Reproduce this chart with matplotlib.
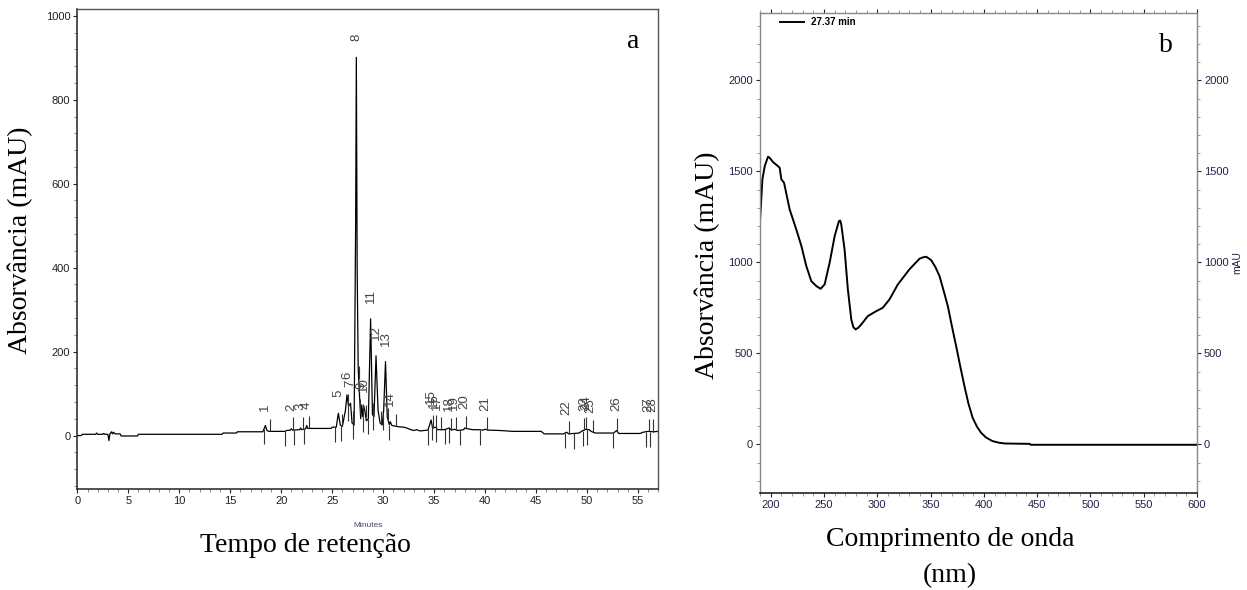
import matplotlib
matplotlib.use("Agg")
import matplotlib.pyplot as plt
from matplotlib.ticker import MultipleLocator
import numpy as np

# ---------------- data: chromatogram (panel a) ----------------
chrom_t = [0.0, 0.4, 0.5, 1.8, 1.9, 2.0, 2.5, 2.6, 2.7, 3.0, 3.1, 3.2, 3.35, 3.45, 3.55, 3.7,
           4.2, 4.3, 5.9, 6.0, 14.2, 14.3, 15.6, 15.7, 18.2, 18.35, 18.45, 18.6, 18.8,
           20.4, 20.5, 20.9, 21.0, 21.1, 21.8, 21.9, 22.0, 22.4, 22.5, 22.6, 24.9, 25.0,
           25.4, 25.6, 25.8, 26.0, 26.3, 26.45, 26.6, 26.8, 26.95, 27.15, 27.3, 27.37,
           27.45, 27.55, 27.65, 27.8, 27.9, 28.0, 28.1, 28.2, 28.35, 28.55, 28.77, 28.95,
           29.1, 29.3, 29.5, 29.7, 29.9, 30.05, 30.23, 30.4, 30.6, 30.7, 30.85, 31.5,
           32.0, 32.3, 32.6, 33.0, 33.3, 33.6, 34.0, 34.4, 34.7, 34.85, 35.2, 35.3, 36.0,
           36.5, 36.7, 37.0, 37.3, 37.9, 38.0, 38.3, 38.8, 39.3, 39.8, 40.0, 40.3, 41.5,
           42.7, 45.5, 45.8, 47.7, 48.0, 48.2, 49.2, 49.6, 49.9, 50.2, 50.4, 50.8, 52.6,
           52.9, 53.1, 55.2, 55.5, 56.0, 56.5, 57.0]
chrom_v = [0, 0, 3, 3, 6, 3, 3, 5, 3, 3, -12, 4, 9, 4, 8, 4,
           4, -1, -1, 3, 3, 6, 6, 9, 9, 18, 24, 12, 10,
           10, 12, 13, 16, 13, 14, 18, 14, 16, 24, 17, 17, 20,
           20, 53, 25, 22, 60, 97, 70, 77, 30, 25, 500, 901,
           400, 160, 110, 40, 73, 45, 70, 60, 35, 40, 278, 50,
           45, 190, 60, 30, 25, 60, 176, 45, 26, 33, 24, 21,
           20, 18, 15, 12, 14, 11, 12, 13, 37, 18, 20, 14, 14,
           18, 13, 15, 12, 14, 18, 16, 14, 14, 13, 15, 13, 12,
           10, 10, 4, 4, 8, 4, 6, 12, 15, 14, 10, 6, 6,
           12, 5, 5, 8, 10, 9, 10]

peak_labels = [str(i) for i in range(1, 29)]
peak_rt = [18.4, 21.0, 21.9, 22.5, 25.6, 26.45, 26.8, 27.37, 27.9, 28.15, 28.77, 29.3,
           30.23, 30.7, 34.7, 34.95, 35.3, 36.5, 36.9, 38.0, 40.0, 48.0, 49.7, 49.95,
           50.3, 52.9, 56.0, 56.4]
peak_start = [18.3, 20.4, 21.3, 22.2, 25.3, 25.9, 26.6, 27.05, 27.7, 28.0, 28.5, 29.0,
              30.0, 30.6, 34.4, 34.8, 35.2, 36.1, 36.5, 37.5, 39.5, 47.8, 48.7, 49.6,
              50.0, 52.5, 55.8, 56.2]
peak_end = [18.9, 21.2, 22.1, 22.7, 26.0, 26.6, 27.0, 27.6, 28.0, 28.3, 29.0, 29.8,
            30.5, 31.3, 34.9, 35.2, 35.7, 36.7, 37.1, 38.1, 40.2, 48.2, 49.7, 49.9,
            50.6, 52.9, 56.1, 56.5]

# ---------------- data: UV spectrum (panel b) ----------------
spec_nm = [189.7, 192.2, 194.4, 197.5, 199.0, 202.2, 206.8, 208.4, 210.0, 212.5, 217.8,
           224.0, 228.8, 233.4, 238.1, 242.8, 246.8, 250.6, 255.3, 260.0, 264.0, 265.2,
           266.2, 269.3, 272.4, 275.6, 277.5, 279.6, 282.0, 285.0, 291.1, 299.0, 305.2,
           311.5, 319.3, 330.2, 339.6, 343.0, 345.9, 350.5, 354.5, 358.4, 362.0, 366.2,
           370.0, 374.0, 378.0, 381.8, 385.5, 389.5, 393.5, 397.4, 402.0, 408.2, 414.5,
           420.0, 443.0, 444.0, 600.0]
spec_mau = [1199, 1456, 1529, 1581, 1575, 1551, 1529, 1520, 1456, 1438, 1291,
            1181, 1090, 980, 897, 870, 855, 879, 998, 1144, 1227, 1230,
            1209, 1071, 852, 687, 645, 632, 640, 659, 705, 732, 751,
            797, 879, 962, 1020, 1028, 1031, 1013, 975, 925, 850, 760,
            650, 540, 425, 320, 225, 146, 98, 64, 38, 18, 9,
            5, 3, -2, -2]
spec_legend = "27.37 min"

# ---------------- figure ----------------
fig = plt.figure(figsize=(12.47, 5.90), dpi=100)
tick_font = ['Liberation Sans Narrow', 'Liberation Sans', 'DejaVu Sans']
serif = ['Liberation Serif', 'DejaVu Serif']

# ----- panel a -----
ax1 = fig.add_axes([0.062, 0.1707, 0.466, 0.8132])
ax1.plot(chrom_t, chrom_v, color='black', lw=0.9)

for lab, rt, s, e in zip(peak_labels, peak_rt, peak_start, peak_end):
    bs = np.interp(s, chrom_t, chrom_v)
    be = np.interp(e, chrom_t, chrom_v)
    ax1.vlines(s, bs - 36, bs, color='#333333', lw=0.8)
    ax1.vlines(e, be, be + 30, color='#333333', lw=0.8)
    apex = np.interp(rt, chrom_t, chrom_v)
    ly = max(apex + 38, be + 30 + 16)
    ax1.text(rt, ly, lab, rotation=90, ha='center', va='bottom', fontsize=9.5,
             color='#444444', family=['Liberation Sans', 'DejaVu Sans'])

ax1.set_xlim(0, 57)
ax1.set_ylim(-128, 1015)
ax1.xaxis.set_major_locator(MultipleLocator(5))
ax1.xaxis.set_minor_locator(MultipleLocator(1))
ax1.yaxis.set_major_locator(MultipleLocator(200))
ax1.yaxis.set_minor_locator(MultipleLocator(40))
ax1.tick_params(which='major', length=3, width=0.8, labelsize=8, colors='#222222', pad=2)
ax1.tick_params(which='minor', length=2, width=0.6, colors='#777777')
for lbl in ax1.get_xticklabels() + ax1.get_yticklabels():
    lbl.set_family(tick_font)
for sp in ['top', 'right']:
    ax1.spines[sp].set_color('#555555')
    ax1.spines[sp].set_linewidth(1.0)
for sp in ['left', 'bottom']:
    ax1.spines[sp].set_color('#333333')
    ax1.spines[sp].set_linewidth(1.2)

ax1.text(0.5, -0.075, "Minutes", transform=ax1.transAxes, ha='center', va='center',
         fontsize=6, color='#554466', family=tick_font)
fig.text(305 / 1247, 1 - 545 / 590, "Tempo de retenção", ha='center', va='center',
         fontsize=20, family=serif)
fig.text(20 / 1247, 1 - 240 / 590, "Absorvância (mAU)", rotation=90, ha='center',
         va='center', fontsize=20, family=serif)
fig.text(633 / 1247, 1 - 42 / 590, "a", ha='center', va='center', fontsize=20, family=serif)

# ----- panel b -----
ax2 = fig.add_axes([0.6095, 0.1644, 0.3504, 0.8144])
ax2.plot(spec_nm, spec_mau, color='black', lw=1.4, label=spec_legend)
ax2.set_xlim(190, 600)
ax2.set_ylim(-267, 2373)
ax2.xaxis.set_major_locator(MultipleLocator(50))
ax2.xaxis.set_minor_locator(MultipleLocator(10))
ax2.yaxis.set_major_locator(MultipleLocator(500))
ax2.yaxis.set_minor_locator(MultipleLocator(100))
ax2.tick_params(which='major', length=3, width=0.8, labelsize=8, colors='#222244', pad=2,
                right=True, labelright=True)
ax2.tick_params(which='minor', length=2, width=0.6, colors='#888888', right=True)
ax2.tick_params(axis='x', which='both', top=True, direction='out')
for sp in ['top', 'right', 'left']:
    ax2.spines[sp].set_color('#888888')
    ax2.spines[sp].set_linewidth(1.0)
ax2.spines['bottom'].set_color('#222222')
ax2.spines['bottom'].set_linewidth(1.2)
for t in ax2.xaxis.majorTicks:
    t.label1.set_family(tick_font)
for t in ax2.yaxis.majorTicks:
    t.label1.set_family(tick_font)
    t.label2.set_family(tick_font)

ax2.legend(loc='upper left', frameon=False, handlelength=2.4,
           borderaxespad=0.1, bbox_to_anchor=(0.035, 1.0),
           prop={'family': tick_font, 'weight': 'bold', 'size': 7})

fig.text(1237 / 1247, 1 - 263 / 590, "mAU", rotation=90, ha='center', va='center',
         fontsize=7.5, family=tick_font, color='#222244')
fig.text(950 / 1247, 1 - 540 / 590, "Comprimento de onda", ha='center', va='center',
         fontsize=20, family=serif)
fig.text(950 / 1247, 1 - 576 / 590, "(nm)", ha='center', va='center',
         fontsize=20, family=serif)
fig.text(707 / 1247, 1 - 265 / 590, "Absorvância (mAU)", rotation=90, ha='center',
         va='center', fontsize=20, family=serif)
fig.text(1166 / 1247, 1 - 45 / 590, "b", ha='center', va='center', fontsize=20, family=serif)

fig.savefig("out.png", dpi=100)
